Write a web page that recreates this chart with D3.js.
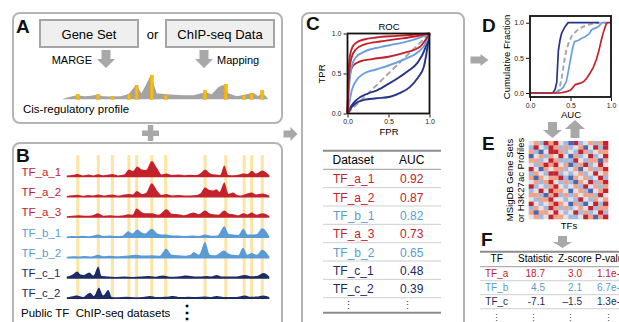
<!DOCTYPE html>
<html><head><meta charset="utf-8">
<script src="https://cdn.jsdelivr.net/npm/d3@7"></script>
<style>
body{margin:0;background:#fff;overflow:hidden}
svg{display:block}
text{font-family:"Liberation Sans",Arial,Helvetica,sans-serif}
</style></head>
<body><svg id="c" width="619" height="322"></svg>
<script>
// ---------------- DATA ----------------
const sites = [7.6,17.5,24.3,32.3,36.0,43.3,50.0,69.0,79.0,87.9,91.5,96.6];
const siteHeightsA = [5,5,3,5,14,24,4,9,15,4,6,9];
const profileA = [[0,0],[3,2],[7.1,4],[11,3],[14,3.5],[16.7,4.5],[20,3],[23.6,2.7],[28,3],[32,5],[35.7,14.3],[38.4,6],[42.8,24],[45.7,6],[50.5,5],[54.5,4.5],[58.5,4],[63.3,4],[69,7],[72.2,5],[75.4,12],[77.8,14.5],[80.2,6],[84.3,3],[87.9,4.5],[92.3,6.5],[94.7,3],[96.6,7],[99.5,0]];

const trackNames = ["TF_a_1","TF_a_2","TF_a_3","TF_b_1","TF_b_2","TF_c_1","TF_c_2"];
const trackGroups = ["a","a","a","b","b","c","c"];
const track_a_1 = [[2.3,1],[5,1.5],[7.5,2.5],[10,1.2],[13,2],[15,1.2],[17.5,2.4],[20,1.3],[22.5,2],[24.5,2.5],[27,1.2],[30,2],[32.3,7],[34.2,5.5],[36.3,10],[38.5,7],[40.5,6.5],[43.3,15.7],[46,8],[48,2.2],[50.4,3],[53,1.5],[56,2],[59,1.3],[62,1.8],[65,1.5],[67,3.5],[69,7],[71.5,3],[74,2],[76.3,1.5],[78.3,11],[80.2,1.6],[83,1.3],[85.5,2],[87.5,3],[89.5,2.5],[91.5,5.8],[93.7,3],[96.6,6],[100,1.3]];
const track_a_2 = [[2.3,1],[5,1.6],[7.6,2.2],[10,1.2],[12.5,2],[15,1.4],[17.5,2.3],[20,1.3],[22,2],[24.3,2.5],[27,1.3],[30,2.5],[32.3,3],[34,2.5],[36.2,6],[38.5,3],[40.5,4],[43.3,13.7],[46,6],[48,2],[50.2,2.8],[53,1.5],[56,2],[59,1.5],[62,1.5],[65,2],[67,4],[69,9.3],[71,7],[73,6.5],[74.5,7.7],[76,5],[78.3,14.3],[80.3,3],[82.5,4.3],[84,2.5],[86,1.5],[88,2.5],[91.5,4.3],[93.5,2.5],[96.6,3.3],[100,1.2]];
const track_a_3 = [[2.3,1],[5,1.5],[8,2],[11,1.4],[14,1.6],[17.5,4],[20,1.5],[23.2,2],[26,1.4],[29,1.6],[32,3],[34,2.5],[36,8.7],[38.5,5],[40,4],[43.3,4],[46.5,2.5],[50.5,8],[53,3.5],[56.1,3],[59,2],[63.4,4.7],[66,3],[69,6.7],[71,4],[73,3],[75.5,2.5],[78.3,6.7],[80.5,3.5],[82.6,3],[85,2],[87.5,4],[89.5,2.8],[91.5,4.7],[93.8,2.5],[96.6,4],[100,1.2]];
const track_b_1 = [[2.3,1],[4.5,1.5],[7,1.3],[10,1.8],[13,1.2],[17.5,3],[20,1.5],[23,2],[26,1.5],[29,1.8],[32,6.3],[34,4],[36.3,8],[38.5,5],[40,4],[43.3,8.7],[46,4],[48,3],[50.5,3],[53,2],[56,2],[59,1.6],[63,2],[66,1.5],[69,3],[72,1.8],[75,2],[78.3,11.3],[80.5,3.5],[82.6,3],[85,2.5],[87.5,8.7],[89.5,3],[91.5,3],[94,3.5],[96.6,9.3],[100,1.2]];
const track_b_2 = [[2.3,1],[5,1.5],[8,1.3],[11,1.8],[14,1.2],[17.5,3],[20,1.5],[23,2],[26,1.5],[29,1.8],[32,2.2],[36,3],[39,2.2],[43.3,2.5],[47,2],[50.3,9],[53,3],[56,2.5],[59,2],[62,3],[63.5,5.7],[66,3],[69,15.7],[71.3,3],[74,2.5],[78.2,7.3],[80.5,4],[82.6,3],[85,2.5],[87.3,10],[89.5,3],[91.5,4.7],[94,3],[96.6,8],[100,1.2]];
const track_c_1 = [[2.3,1.5],[4.7,3],[7.4,6.7],[9,3.5],[10.3,3],[13.2,5.7],[15.1,2.5],[17.5,11.7],[19.1,2],[22,1.5],[26,1.2],[30,1.5],[34,1.2],[38,1.6],[41.5,2],[45,1.3],[48.7,2.5],[52,1.4],[56,1.6],[60,2.5],[64,1.5],[67,1.5],[69.8,2],[72,1.5],[74.6,3],[77,1.5],[80,1.5],[84,1.5],[88.3,3],[91,1.8],[94,2],[97.1,5],[100,1.5]];
const track_c_2 = [[2.3,1.2],[4.5,2],[7.1,3],[10.3,1.5],[13.5,5.7],[15.4,2.5],[17.8,10.7],[19.9,3],[22.3,8.3],[24,1.5],[27,1.2],[31,1.6],[35,1.2],[39,1.5],[42.4,2.5],[46,1.3],[50,1.6],[53.6,2.5],[57,1.3],[61,1.6],[65,1.3],[69,1.8],[71.5,1.4],[74.6,2.5],[78,1.5],[81,1.4],[84,1.5],[88.3,3],[91,1.6],[94,1.8],[97.1,3],[100,1.3]];
const tracks = [track_a_1,track_a_2,track_a_3,track_b_1,track_b_2,track_c_1,track_c_2];

const rocDatasets = ["TF_a_1","TF_a_2","TF_b_1","TF_a_3","TF_b_2","TF_c_1","TF_c_2"];
const rocAUC = [0.92,0.87,0.82,0.73,0.65,0.48,0.39];
const rocGroups = ["a","a","b","a","b","c","c"];
const roc_a_1 = [[0,0],[0.01,0.45],[0.03,0.72],[0.06,0.83],[0.1,0.88],[0.2,0.925],[0.35,0.95],[0.6,0.97],[0.8,0.985],[1,1]];
const roc_a_2 = [[0,0],[0.02,0.5],[0.05,0.7],[0.1,0.8],[0.2,0.86],[0.4,0.9],[0.6,0.93],[0.8,0.96],[1,1]];
const roc_b_1 = [[0,0],[0.02,0.35],[0.05,0.58],[0.1,0.7],[0.2,0.77],[0.4,0.83],[0.6,0.87],[0.8,0.92],[1,1]];
const roc_a_3 = [[0,0],[0.01,0.3],[0.03,0.5],[0.07,0.6],[0.15,0.65],[0.3,0.68],[0.5,0.71],[0.7,0.76],[0.88,0.83],[1,1]];
const roc_b_2 = [[0,0],[0.02,0.12],[0.05,0.28],[0.1,0.4],[0.2,0.5],[0.35,0.55],[0.5,0.6],[0.7,0.68],[0.85,0.76],[0.95,0.87],[1,1]];
const roc_c_1 = [[0,0],[0.05,0.1],[0.11,0.17],[0.25,0.25],[0.36,0.29],[0.5,0.37],[0.64,0.46],[0.75,0.54],[0.85,0.63],[0.95,0.82],[1,1]];
const roc_c_2 = [[0,0],[0.05,0.08],[0.12,0.14],[0.2,0.17],[0.35,0.19],[0.52,0.21],[0.65,0.26],[0.76,0.33],[0.86,0.45],[0.93,0.58],[1,1]];
const rocCurves = [roc_a_1,roc_a_2,roc_b_1,roc_a_3,roc_b_2,roc_c_1,roc_c_2];
const rocTicks = [0,0.5,1];

const cdf_c = [[0,0],[0.28,0],[0.31,0.05],[0.33,0.15],[0.35,0.6],[0.37,0.75],[0.39,0.85],[0.43,0.94],[0.47,1],[0.85,1]];
const cdf_null = [[0.32,0],[0.36,0.05],[0.39,0.2],[0.41,0.35],[0.43,0.5],[0.45,0.62],[0.48,0.72],[0.52,0.82],[0.58,0.89],[0.65,0.94],[0.72,0.97],[0.83,1],[0.95,1]];
const cdf_b = [[0.3,0],[0.35,0.02],[0.41,0.08],[0.45,0.17],[0.48,0.35],[0.5,0.48],[0.53,0.66],[0.55,0.73],[0.6,0.75],[0.64,0.78],[0.68,0.8],[0.73,0.84],[0.76,0.9],[0.82,0.93],[0.85,0.95],[0.89,1],[0.95,1]];
const cdf_a = [[0,0],[0.37,0],[0.45,0.02],[0.5,0.04],[0.53,0.08],[0.56,0.12],[0.62,0.14],[0.66,0.16],[0.7,0.21],[0.74,0.28],[0.78,0.36],[0.82,0.48],[0.85,0.6],[0.88,0.75],[0.91,0.88],[0.94,0.98],[0.96,1],[1,1]];

const heatmap = [
 [ 0, 1,-1, 2, 1, 2, 0,-1,-2, 2,-1, 0, 1,-1, 1, 2],
 [-1, 2, 0,-1, 2, 1,-1, 1,-1, 0, 1,-2, 0, 2,-1, 2],
 [ 1,-1,-2, 0, 2, 2, 1,-1, 0,-1, 2, 1,-1, 0, 1, 1],
 [-2, 0, 1,-1, 1, 0, 2, 0,-2, 1,-1, 0, 2,-1, 0, 2],
 [ 1, 1,-1, 0, 2, 1,-1,-1,-1, 2, 0,-1, 1, 1,-2, 1],
 [ 0,-1, 1, 2, 1, 2, 0, 1,-2,-1, 1, 2,-1, 0, 2, 0],
 [ 2, 0,-2, 1, 0, 1, 1,-1, 0, 1,-2, 0, 1,-1, 1, 2],
 [-1, 1, 0,-1, 2, 2,-1, 0,-1, 0, 1,-1, 0, 2, 0, 1],
 [ 1,-2, 1, 0, 1, 1, 2,-1,-2, 1, 0, 1,-1, 0, 2,-1],
 [ 0, 1,-1, 1, 2, 0,-1, 1,-1,-2, 1, 0, 2,-1, 1, 2],
 [ 2,-1, 0,-1, 1, 2, 0,-1, 0, 1,-1, 2, 0, 1,-1, 1],
 [-1, 0, 2, 0, 2, 1, 1, 0,-2, 0, 1,-1,-2, 0, 1, 2],
 [ 1, 1,-1,-2, 1, 2,-1, 1,-1, 1, 0, 1, 1,-1, 2, 0],
 [ 0,-1, 1, 1, 2, 0, 0,-1, 0,-1, 2, 0,-1, 1, 0, 1],
 [ 2, 0,-1, 0, 1, 2, 1, 0,-2, 1,-1,-2, 0, 2,-1, 2],
 [-1, 1, 0,-1, 2, 1,-1, 1,-1, 0, 1, 0, 2,-1, 1, 1],
 [ 1,-2, 1, 1, 0, 2, 0,-1, 0, 2,-1, 1,-1, 0, 2,-1],
 [ 0, 1,-1, 0, 2, 1, 1, 0,-1,-1, 0, 2, 1,-2, 1, 2]
];

const fHeader = ["TF","Statistic","Z-score","P-value"];
const fTF = ["TF_a","TF_b","TF_c"];
const fGroups = ["a","b","c"];
const fStat = ["18.7","4.5","-7.1"];
const fZ = ["3.0","2.1","\u20131.5"];
const fP = ["1.1e-3","6.7e-2","1.3e-1"];

// ---------------- STYLE ----------------
const groupColor = {a:"#c4222b", b:"#5b9bd5", c:"#1d2a63"};
const rocColor = {a:"#c4222b", b:"#6a9fdc", c:"#26358a"};
const boxStroke = "#b4b4b4";
const arrowFill = "#a8a8a8";

const svg = d3.select("#c");

// ---------- helpers ----------
function arrow(cx, cy, dir, len, shaftW, headW, headL){
  // arrow pointing right in local coords, centered
  const x0=-len/2, x1=len/2-headL, x2=len/2;
  const p = `M${x0},${-shaftW/2}L${x1},${-shaftW/2}L${x1},${-headW/2}L${x2},0L${x1},${headW/2}L${x1},${shaftW/2}L${x0},${shaftW/2}Z`;
  const rot = {right:0, down:90, left:180, up:-90}[dir];
  svg.append("path").attr("d",p).attr("fill",arrowFill)
     .attr("transform",`translate(${cx},${cy}) rotate(${rot})`);
}
function letter(t,x,y){
  svg.append("text").attr("x",x).attr("y",y).attr("font-size",19).attr("font-weight","bold").attr("fill","#111").text(t);
}

// ---------- boxes ----------
svg.append("rect").attr("x",13).attr("y",13).attr("width",269).attr("height",110).attr("rx",7)
  .attr("fill","none").attr("stroke",boxStroke).attr("stroke-width",2);
svg.append("rect").attr("x",13).attr("y",143).attr("width",269).attr("height",210).attr("rx",7)
  .attr("fill","none").attr("stroke",boxStroke).attr("stroke-width",2);
svg.append("rect").attr("x",302).attr("y",13).attr("width",162).attr("height",340).attr("rx",7)
  .attr("fill","none").attr("stroke",boxStroke).attr("stroke-width",2);

// plus sign
svg.append("rect").attr("x",142).attr("y",130.5).attr("width",17).attr("height",5.5).attr("fill",arrowFill);
svg.append("rect").attr("x",147.8).attr("y",125).attr("width",5.5).attr("height",16).attr("fill",arrowFill);
// arrows between panels
arrow(290.5,134,"right",14,7,14,7);
arrow(479.5,60,"right",18,7,12,8);

// ---------- Panel A ----------
letter("A",16,33);
svg.append("rect").attr("x",40).attr("y",20).attr("width",98).attr("height",27).attr("fill","#efefef").attr("stroke","#a5a5a5").attr("stroke-width",2);
svg.append("rect").attr("x",166).attr("y",20).attr("width",108).attr("height",27).attr("fill","#efefef").attr("stroke","#a5a5a5").attr("stroke-width",2);
svg.append("text").attr("x",89).attr("y",38.5).attr("text-anchor","middle").attr("font-size",13).text("Gene Set");
svg.append("text").attr("x",220).attr("y",38.5).attr("text-anchor","middle").attr("font-size",13).text("ChIP-seq Data");
svg.append("text").attr("x",152.5).attr("y",38.5).attr("text-anchor","middle").attr("font-size",13).text("or");
arrow(106,59,"down",18,9,18,9);
arrow(204,59,"down",18,9,18,9);
svg.append("text").attr("x",92).attr("y",64).attr("text-anchor","end").attr("font-size",11).text("MARGE");
svg.append("text").attr("x",217).attr("y",64).attr("font-size",11).text("Mapping");

const gx = d3.scaleLinear().domain([0,100]).range([62,269.3]);
const hy = d3.scaleLinear().domain([0,16]).range([0,16]);
const baseA = 99.3;
svg.append("path").datum(profileA)
  .attr("d",d3.area().x(d=>gx(d[0])).y0(baseA).y1(d=>baseA-hy(d[1])).curve(d3.curveLinear))
  .attr("fill","#a4a4a4");
svg.append("g").selectAll("rect").data(sites).join("rect")
  .attr("x",d=>gx(d)-1.5).attr("width",3)
  .attr("y",(d,i)=>baseA-hy(siteHeightsA[i])).attr("height",(d,i)=>hy(siteHeightsA[i]))
  .attr("fill","#f6bd12").attr("stroke","#f2aa00").attr("stroke-width",0.6);
svg.append("text").attr("x",23).attr("y",113).attr("font-size",11.5).text("Cis-regulatory profile");

// ---------- Panel B ----------
letter("B",16,162);
const ty = d3.scalePoint().domain(trackNames).range([176.6,298.4]);
svg.append("g").selectAll("rect").data(sites).join("rect")
  .attr("x",d=>gx(d)-1.5).attr("width",3).attr("y",155).attr("height",145)
  .attr("fill","#fde4a2");
trackNames.forEach((n,i)=>{
  const b = ty(n);
  svg.append("path").datum(tracks[i])
    .attr("d",d3.area().x(d=>gx(d[0])).y0(b+0.6).y1(d=>b-hy(d[1])).curve(d3.curveMonotoneX))
    .attr("fill",groupColor[trackGroups[i]]);
  svg.append("text").attr("x",21.5).attr("y",b-1).attr("font-size",11.5)
    .attr("fill",groupColor[trackGroups[i]]).text(n);
});
svg.append("text").attr("x",21).attr("y",317).attr("font-size",11.5).attr("xml:space","preserve").text("Public TF  ChIP-seq datasets");
svg.append("text").attr("x",187).attr("y",318).attr("text-anchor","middle").attr("font-size",18).attr("font-weight","bold")
  .attr("font-family","DejaVu Sans").text("\u22EE");

// ---------- Panel C: ROC ----------
letter("C",306,30);
const rx = d3.scaleLinear().domain([0,1]).range([347.5,429.5]);
const ry = d3.scaleLinear().domain([0,1]).range([113.5,33.5]);
const rocG = svg.append("g");
rocG.append("line").attr("x1",rx(0)).attr("y1",ry(0)).attr("x2",rx(1)).attr("y2",ry(1))
  .attr("stroke","#a9a9a9").attr("stroke-width",2).attr("stroke-dasharray","6,3");
const rline = d3.line().x(d=>rx(d[0])).y(d=>ry(d[1])).curve(d3.curveMonotoneX);
rocCurves.slice().reverse().forEach((c,j)=>{
  const i = rocCurves.length-1-j;
  rocG.append("path").datum(c).attr("d",rline).attr("fill","none")
    .attr("stroke",rocColor[rocGroups[i]]).attr("stroke-width",1.9);
});
rocG.append("rect").attr("x",rx(0)).attr("y",ry(1)).attr("width",rx(1)-rx(0)).attr("height",ry(0)-ry(1))
  .attr("fill","none").attr("stroke","#111").attr("stroke-width",1.8);
function styleAxis(g){
  g.select(".domain").remove();
  g.selectAll("line").attr("stroke","#111");
  g.selectAll("text").attr("font-family","DejaVu Sans Mono").attr("font-size",7).attr("fill","#222");
}
svg.append("g").attr("transform",`translate(${rx(0)-1},0)`)
  .call(d3.axisLeft(ry).tickValues(rocTicks).tickFormat(d3.format(".1f")).tickSize(3).tickPadding(2)).call(styleAxis);
svg.append("g").attr("transform",`translate(0,${ry(0)+1})`)
  .call(d3.axisBottom(rx).tickValues(rocTicks).tickFormat(d3.format(".1f")).tickSize(3).tickPadding(2)).call(styleAxis);
svg.append("text").attr("x",389).attr("y",30).attr("text-anchor","middle").attr("font-size",9.5).text("ROC");
svg.append("text").attr("x",389).attr("y",135).attr("text-anchor","middle").attr("font-size",9.5).text("FPR");
svg.append("text").attr("transform","translate(325,74) rotate(-90)").attr("text-anchor","middle").attr("font-size",9.5).text("TPR");

// table C
const tRow = d3.scaleBand().domain(rocDatasets).range([169.3,297.7]);
svg.append("line").attr("x1",323).attr("x2",441).attr("y1",150.7).attr("y2",150.7).attr("stroke","#8c8c8c").attr("stroke-width",2);
svg.append("line").attr("x1",323).attr("x2",441).attr("y1",169.3).attr("y2",169.3).attr("stroke","#9a9a9a").attr("stroke-width",1);
svg.append("line").attr("x1",323).attr("x2",441).attr("y1",312.7).attr("y2",312.7).attr("stroke","#8c8c8c").attr("stroke-width",2);
svg.append("text").attr("x",332.5).attr("y",164).attr("font-size",12).text("Dataset");
svg.append("text").attr("x",399).attr("y",164).attr("font-size",12).text("AUC");
rocDatasets.forEach((n,i)=>{
  const y0 = tRow(n);
  svg.append("line").attr("x1",323).attr("x2",441).attr("y1",y0+tRow.bandwidth()).attr("y2",y0+tRow.bandwidth())
    .attr("stroke","#cfcfcf").attr("stroke-width",1);
  svg.append("text").attr("x",333).attr("y",y0+14).attr("font-size",12).attr("fill",groupColor[rocGroups[i]]).text(n);
  svg.append("text").attr("x",400).attr("y",y0+14).attr("font-size",12).attr("fill",groupColor[rocGroups[i]]).text(d3.format(".2f")(rocAUC[i]));
});
svg.append("text").attr("x",348).attr("y",309).attr("text-anchor","middle").attr("font-size",11).attr("font-family","DejaVu Sans").attr("fill","#444").text("\u22EE");
svg.append("text").attr("x",407).attr("y",309).attr("text-anchor","middle").attr("font-size",11).attr("font-family","DejaVu Sans").attr("fill","#444").text("\u22EE");

// ---------- Panel D ----------
letter("D",482,32);
const dx = d3.scaleLinear().domain([0,1]).range([530,611]);
const dy = d3.scaleLinear().domain([0,1]).range([93,22.7]);
const dline = d3.line().x(d=>dx(d[0])).y(d=>dy(d[1]));
svg.append("path").datum(cdf_null).attr("d",dline).attr("fill","none").attr("stroke","#a9a9a9").attr("stroke-width",2).attr("stroke-dasharray","5,3");
svg.append("path").datum(cdf_b).attr("d",dline).attr("fill","none").attr("stroke","#6a9fdc").attr("stroke-width",1.7);
svg.append("path").datum(cdf_c).attr("d",dline).attr("fill","none").attr("stroke","#26358a").attr("stroke-width",1.7);
svg.append("path").datum(cdf_a).attr("d",dline).attr("fill","none").attr("stroke","#c4222b").attr("stroke-width",1.7);
svg.append("rect").attr("x",530).attr("y",16).attr("width",81).attr("height",81).attr("fill","none").attr("stroke","#111").attr("stroke-width",1.8);
svg.append("g").attr("transform","translate(529,0)")
  .call(d3.axisLeft(dy).tickValues(rocTicks).tickFormat(d3.format(".1f")).tickSize(3).tickPadding(2)).call(styleAxis);
svg.append("g").attr("transform","translate(0,98)")
  .call(d3.axisBottom(dx).tickValues(rocTicks).tickFormat(d3.format(".1f")).tickSize(3).tickPadding(2)).call(styleAxis);
svg.append("text").attr("x",571).attr("y",118).attr("text-anchor","middle").attr("font-size",9.5).text("AUC");
svg.append("text").attr("transform","translate(510,57) rotate(-90)").attr("text-anchor","middle").attr("font-size",9.5).text("Cumulative Fraction");

// ---------- Panel E ----------
letter("E",482,150);
arrow(552.5,130,"down",16,9,19,8);
arrow(575,129,"up",18,9,20,9);
const hxs = d3.scaleBand().domain(d3.range(heatmap[0].length)).range([528.7,608]);
const hys = d3.scaleBand().domain(d3.range(heatmap.length)).range([141,219]);
const hcol = d3.scaleLinear().domain([-2,-1,0,1,2]).range(["#4a66b3","#a3badf","#e3e1e4","#f2a386","#c42230"]);
const hg = svg.append("g");
heatmap.forEach((row,r)=>{
  hg.selectAll(null).data(row).join("rect")
    .attr("x",(d,c)=>hxs(c)).attr("y",hys(r)).attr("width",hxs.bandwidth()+0.3).attr("height",hys.bandwidth()+0.3)
    .attr("fill",d=>hcol(d));
});
svg.append("text").attr("transform","translate(513,180) rotate(-90)").attr("text-anchor","middle").attr("font-size",9.5).text("MSigDB Gene Sets");
svg.append("text").attr("transform","translate(523.5,180) rotate(-90)").attr("text-anchor","middle").attr("font-size",9.5).text("or H3K27ac Profiles");
svg.append("text").attr("x",569).attr("y",229).attr("text-anchor","middle").attr("font-size",9.5).text("TFs");

// ---------- Panel F ----------
letter("F",481,246);
arrow(562.5,242,"down",12,9,19,6);
svg.append("line").attr("x1",480).attr("x2",619).attr("y1",251.7).attr("y2",251.7).attr("stroke","#8c8c8c").attr("stroke-width",2);
svg.append("line").attr("x1",480).attr("x2",619).attr("y1",266.7).attr("y2",266.7).attr("stroke","#9a9a9a").attr("stroke-width",1);
svg.append("text").attr("x",496.7).attr("y",262.3).attr("text-anchor","middle").attr("font-size",10).text(fHeader[0]);
svg.append("text").attr("x",518).attr("y",262.3).attr("font-size",10).text(fHeader[1]);
svg.append("text").attr("x",558).attr("y",262.3).attr("font-size",10).text(fHeader[2]);
svg.append("text").attr("x",595).attr("y",262.3).attr("font-size",10).text(fHeader[3]);
const fRow = d3.scaleBand().domain(fTF).range([266.7,308.7]);
fTF.forEach((t,i)=>{
  const y0 = fRow(t), col = groupColor[fGroups[i]];
  svg.append("line").attr("x1",480).attr("x2",619).attr("y1",y0+fRow.bandwidth()).attr("y2",y0+fRow.bandwidth()).attr("stroke","#cfcfcf");
  svg.append("text").attr("x",496.7).attr("y",y0+10).attr("text-anchor","middle").attr("font-size",10).attr("fill",col).text(t);
  svg.append("text").attr("x",545).attr("y",y0+10).attr("text-anchor","end").attr("font-size",10).attr("fill",col).text(fStat[i]);
  svg.append("text").attr("x",582).attr("y",y0+10).attr("text-anchor","end").attr("font-size",10).attr("fill",col).text(fZ[i]);
  svg.append("text").attr("x",597).attr("y",y0+10).attr("font-size",10).attr("fill",col).text(fP[i]);
});
[496.5,533,570.5,608].forEach(x=>{
  svg.append("text").attr("x",x).attr("y",321).attr("text-anchor","middle").attr("font-size",9).attr("font-family","DejaVu Sans").attr("fill","#444").text("\u22EE");
});
</script></body></html>
